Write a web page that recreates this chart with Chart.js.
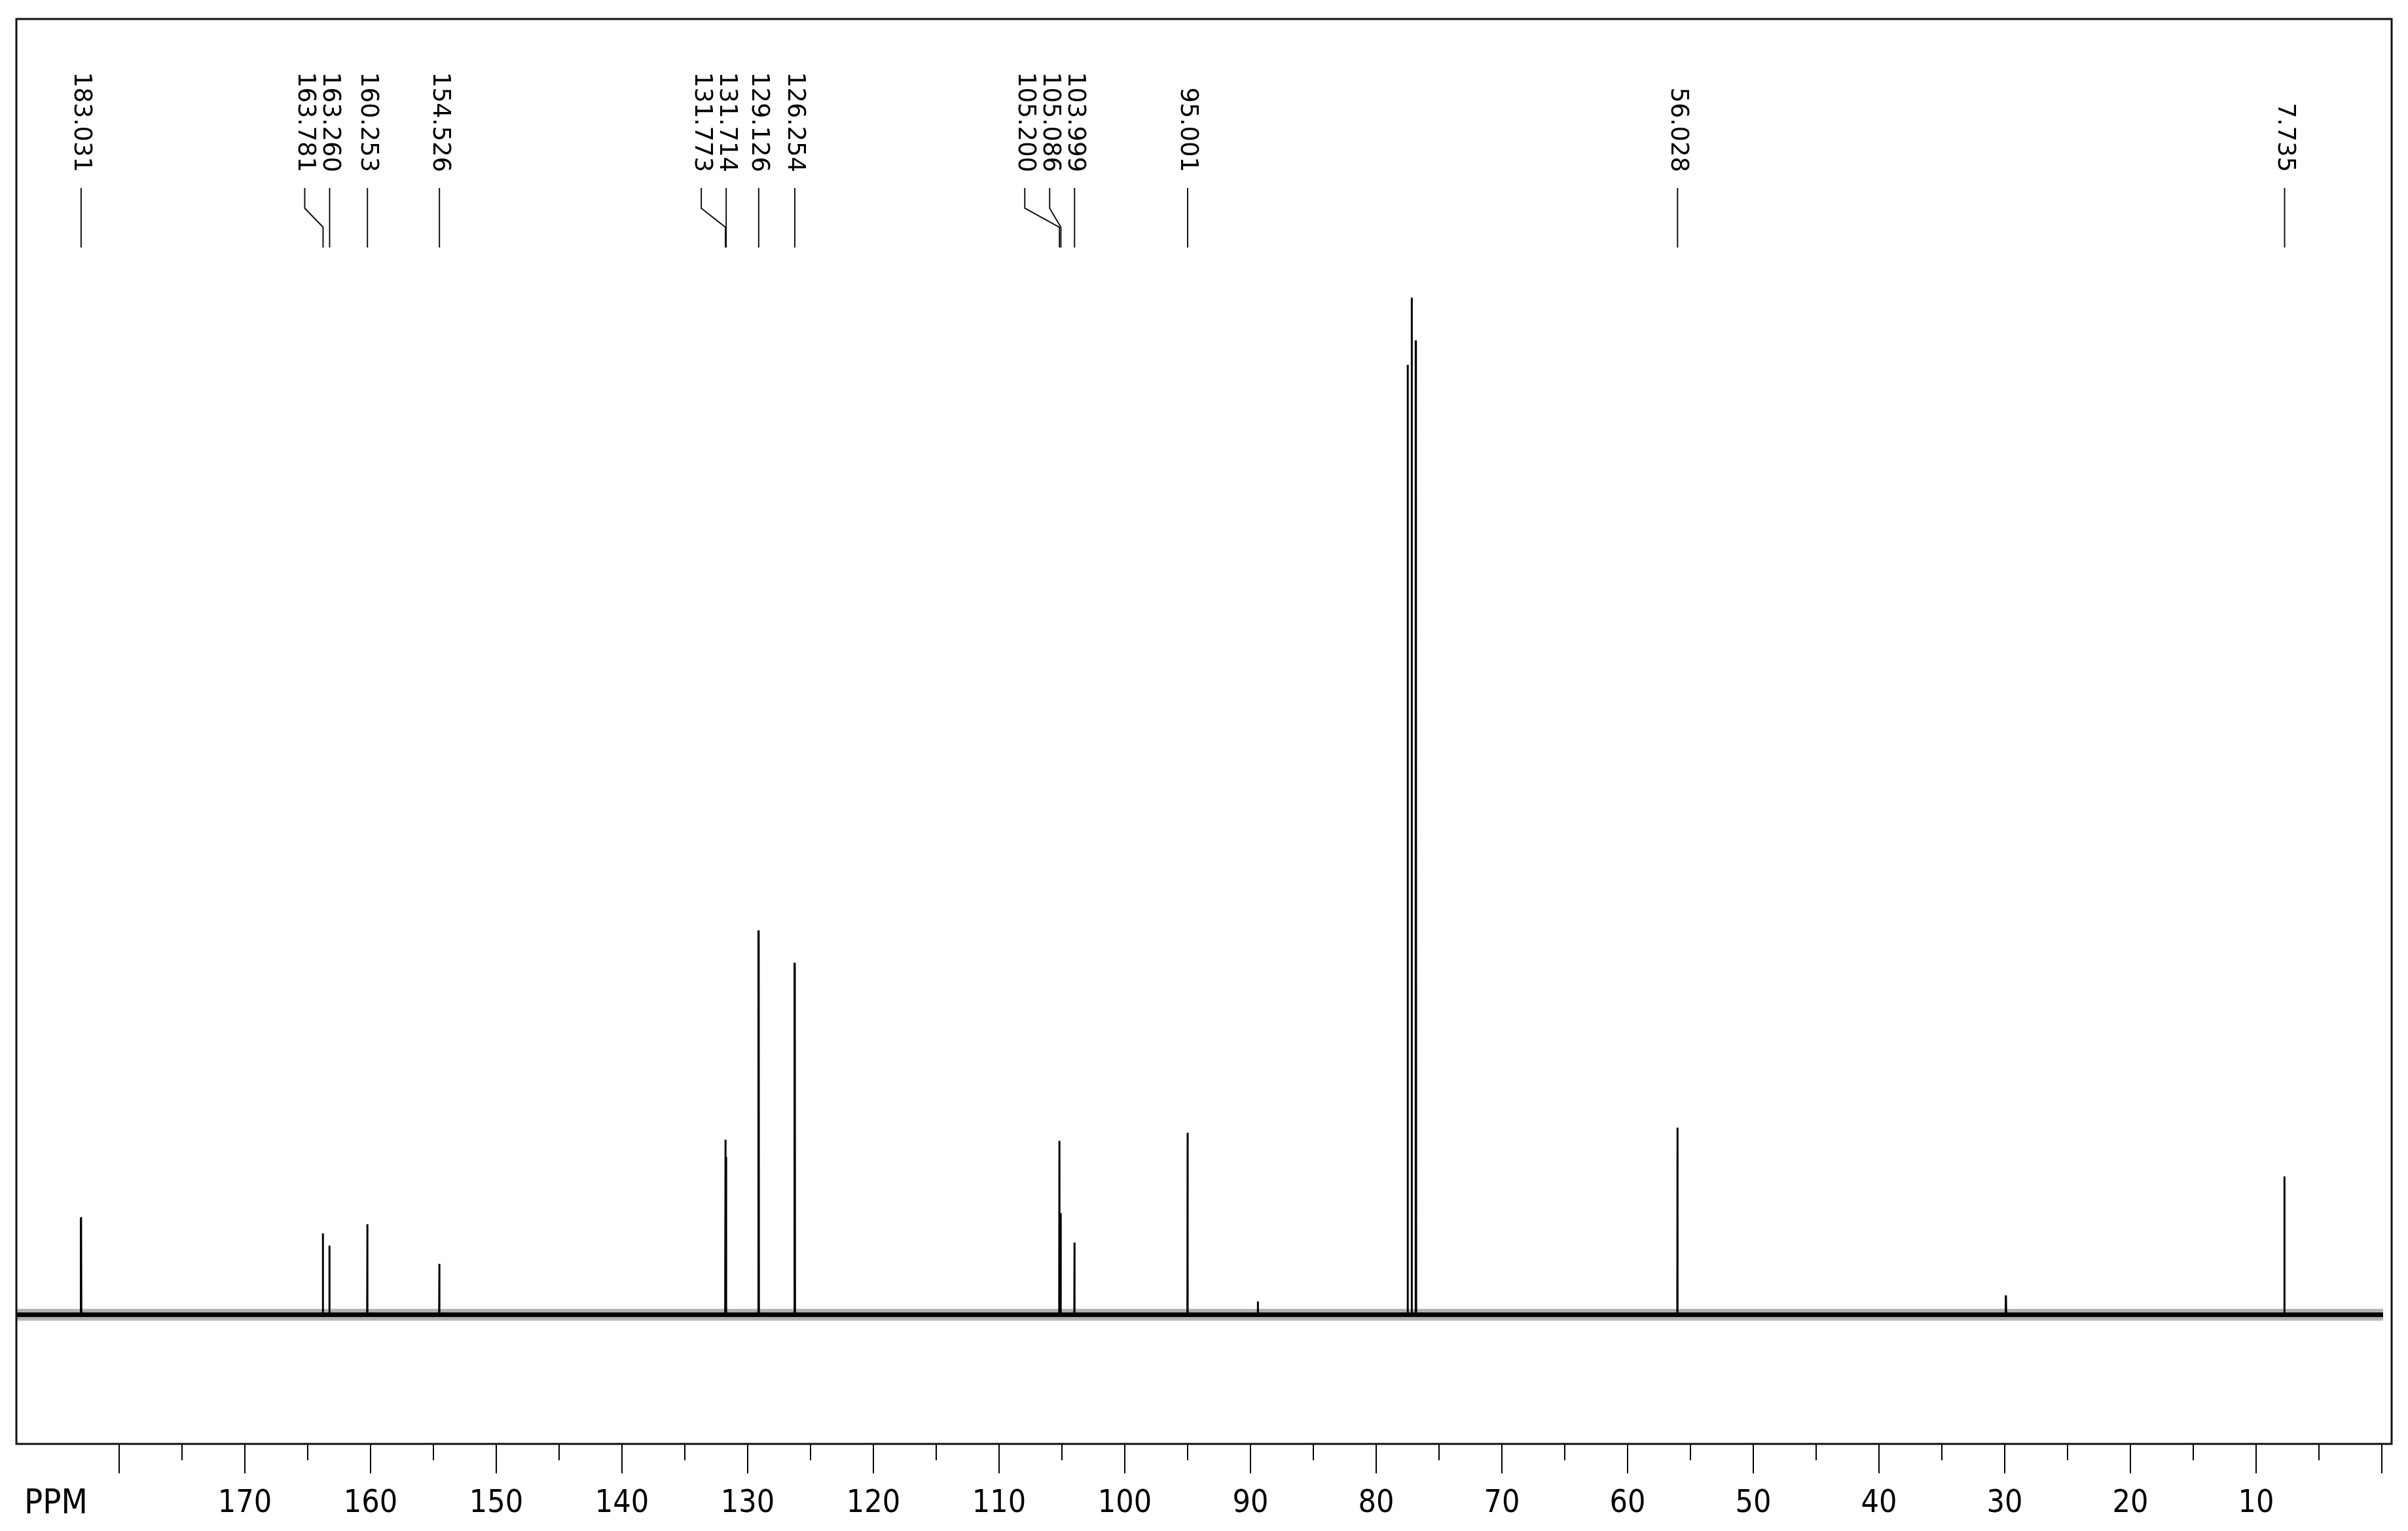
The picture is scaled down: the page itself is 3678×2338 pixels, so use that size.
<!DOCTYPE html>
<html><head><meta charset="utf-8">
<script src="https://cdn.jsdelivr.net/npm/chart.js@4.4.1/dist/chart.umd.min.js"></script>
<style>html,body{margin:0;padding:0;background:#fff;}canvas{display:block;}</style>
</head><body>
<canvas id="c" width="3678" height="2338"></canvas>
<script>
// ---- data ----
const peakPpm    = [183.031, 163.781, 163.260, 160.253, 154.526, 131.773, 131.714, 129.126, 126.254, 105.200, 105.086, 103.999, 95.001, 89.4, 77.48, 77.16, 76.84, 56.028, 29.9, 7.735];
const peakHeight = [9.6,     8.0,     6.8,     8.9,     5.0,     17.2,    15.5,    37.8,    34.6,    17.1,    10.0,    7.1,     17.9,   1.3,  93.4,  100,   95.8,  18.4,   1.9,  13.6];
const labelText  = ['183.031','163.781','163.260','160.253','154.526','131.773','131.714','129.126','126.254','105.200','105.086','103.999','95.001','56.028','7.735'];
const majorTicks = [180,170,160,150,140,130,120,110,100,90,80,70,60,50,40,30,20,10,0];
const tickLabels = ['','170','160','150','140','130','120','110','100','90','80','70','60','50','40','30','20','10',''];
const minorTicks = [175,165,155,145,135,125,115,105,95,85,75,65,55,45,35,25,15,5];
const axisTitle  = 'PPM';
const spectrumRange = [188.18, -0.1];
const xRange = [-0.78, 188.18];
const yRange = [-12.7, 127.4];

// ---- build datasets from the arrays ----
const halfWidth = 0.02;
const order = peakPpm.map((p, i) => i).sort((a, b) => peakPpm[a] - peakPpm[b]);
const spectrum = [{x: spectrumRange[1], y: 0}];
order.forEach(i => {
  spectrum.push({x: peakPpm[i] - halfWidth, y: 0});
  spectrum.push({x: peakPpm[i], y: peakHeight[i]});
  spectrum.push({x: peakPpm[i] + halfWidth, y: 0});
});
spectrum.push({x: spectrumRange[0], y: 0});
const band = [{x: spectrumRange[1], y: 0}, {x: spectrumRange[0], y: 0}];
const labelPpm = labelText.map(Number);

const annot = {
  id: 'annot',
  afterDraw(chart) {
    const {ctx, chartArea: a, scales: {x}} = chart;
    ctx.save();
    // frame
    ctx.strokeStyle = '#111';
    ctx.lineWidth = 3;
    ctx.strokeRect(a.left, a.top, a.right - a.left, a.bottom - a.top);
    // ticks
    ctx.strokeStyle = '#000';
    ctx.lineWidth = 2;
    ctx.beginPath();
    majorTicks.forEach(v => {
      const px = Math.round(x.getPixelForValue(v));
      ctx.moveTo(px, a.bottom + 1); ctx.lineTo(px, a.bottom + 45);
    });
    minorTicks.forEach(v => {
      const px = Math.round(x.getPixelForValue(v));
      ctx.moveTo(px, a.bottom + 1); ctx.lineTo(px, a.bottom + 25);
    });
    ctx.stroke();
    // tick labels
    ctx.fillStyle = '#000';
    ctx.font = "48px 'DejaVu Sans Condensed', 'DejaVu Sans', sans-serif";
    if ('fontStretch' in ctx) ctx.fontStretch = 'condensed';
    ctx.textAlign = 'center';
    ctx.textBaseline = 'middle';
    majorTicks.forEach((v, i) => {
      if (tickLabels[i]) ctx.fillText(tickLabels[i], x.getPixelForValue(v), a.bottom + 92);
    });
    ctx.textAlign = 'left';
    ctx.font = "52px 'DejaVu Sans Condensed', 'DejaVu Sans', sans-serif";
    ctx.fillText(axisTitle, a.left + 12, a.bottom + 92);
    if ('fontStretch' in ctx) ctx.fontStretch = 'normal';

    // peak labels with leader lines
    const d = 38;
    const pk = labelPpm.map(v => x.getPixelForValue(v));
    const idx = pk.map((p, i) => i).sort((i, j) => pk[i] - pk[j]);
    const lx = new Array(pk.length);
    for (let k = idx.length - 1; k >= 0; k--) {
      const i = idx[k];
      lx[i] = (k === idx.length - 1) ? pk[i] : Math.min(pk[i], lx[idx[k + 1]] - d);
    }
    const textEnd = a.top + 234, l0 = a.top + 258, l1 = a.top + 289, l2 = a.top + 318, l3 = a.top + 349;
    ctx.strokeStyle = '#111';
    ctx.lineWidth = 2;
    ctx.font = "37px 'DejaVu Sans', Verdana, sans-serif";
    labelText.forEach((t, i) => {
      ctx.beginPath();
      ctx.moveTo(lx[i], l0);
      ctx.lineTo(lx[i], l1);
      ctx.lineTo(pk[i], l2);
      ctx.lineTo(pk[i], l3);
      ctx.stroke();
      ctx.save();
      ctx.translate(lx[i], textEnd);
      ctx.rotate(Math.PI / 2);
      ctx.textAlign = 'right';
      ctx.textBaseline = 'middle';
      ctx.fillText(t, 0, 0);
      ctx.restore();
    });
    ctx.restore();
  }
};

new Chart(document.getElementById('c'), {
  type: 'line',
  data: {
    datasets: [
      {data: band, borderColor: 'rgba(0,0,0,0.3)', borderWidth: 18, pointRadius: 0},
      {data: band, borderColor: '#000', borderWidth: 7, pointRadius: 0},
      {data: spectrum, borderColor: '#000', borderWidth: 3, pointRadius: 0, borderJoinStyle: 'bevel', tension: 0}
    ]
  },
  options: {
    responsive: false,
    animation: false,
    devicePixelRatio: 1,
    layout: {padding: {left: 25, top: 29, right: 25, bottom: 133}},
    plugins: {legend: {display: false}, tooltip: {enabled: false}},
    scales: {
      x: {type: 'linear', reverse: true, min: xRange[0], max: xRange[1], display: false},
      y: {type: 'linear', min: yRange[0], max: yRange[1], display: false}
    }
  },
  plugins: [annot]
});
</script>
</body></html>
